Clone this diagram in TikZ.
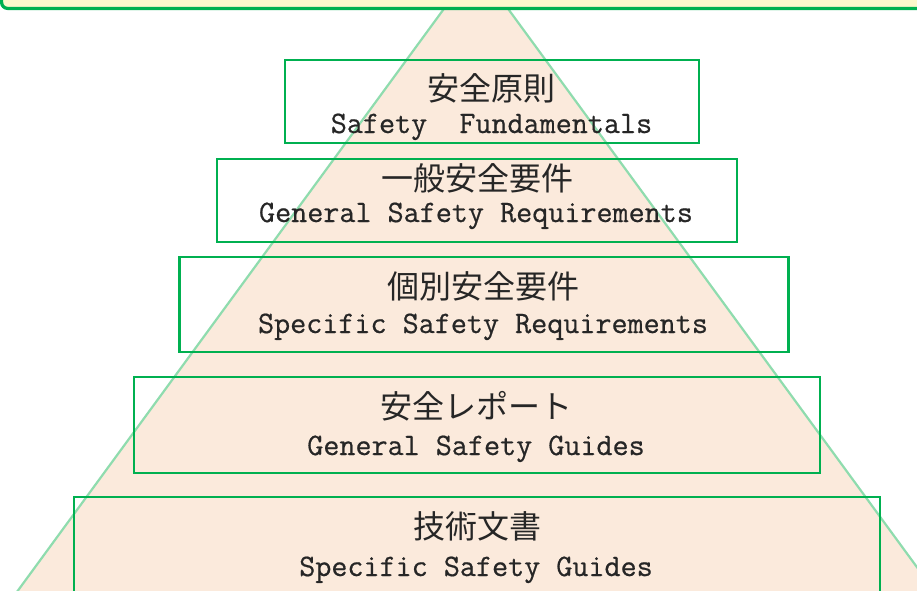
\documentclass[tikz,border=0pt]{standalone}
\usepackage{fontspec}
\newfontfamily\cjk{Noto Sans CJK JP}
\newfontfamily\enmono[FakeBold=0.6]{Latin Modern Mono}
\definecolor{boxgreen}{HTML}{00B050}
\definecolor{trigreen}{HTML}{8FDCAE}
\definecolor{peach}{HTML}{FBEADC}
\definecolor{bannerfill}{HTML}{FDF8CC}
\tikzset{
  box/.style={draw=boxgreen, line width=2.4pt, rectangle, inner sep=0pt},
  cjkt/.style={anchor=base, inner sep=0pt, font=\cjk\fontsize{32}{36}\selectfont, text=black!85},
  ent/.style={anchor=base, inner sep=0pt, font=\enmono\fontsize{31.2}{36}\selectfont, text=black!85},
  triline/.style={draw=trigreen, line width=2.2pt},
  banner/.style={draw=boxgreen, fill=bannerfill, line width=3.2pt, rounded corners=6pt}
}
\begin{document}
\begin{tikzpicture}[x=1pt,y=-1pt]
\useasboundingbox (0,0) rectangle (917,590);
\clip (0,0) rectangle (917,590);
% pyramid
\fill[peach] (476,-35) -- (-30,656) -- (982,656) -- cycle;
\draw[triline] (-30,656) -- (476,-35) -- (982,656);
% banner at top
\draw[banner] (1.6,-40) rectangle (960,8.4);
% boxes
\node[box, minimum width=414pt, minimum height=83pt] (b1) at (492,101.5) {};
\node[box, minimum width=520pt, minimum height=83pt] (b2) at (477,200.5) {};
\node[box, minimum width=609pt, minimum height=95pt] (b3) at (484,304.5) {};
\node[box, minimum width=686pt, minimum height=96pt] (b4) at (477,425) {};
\node[box, minimum width=806pt, minimum height=140pt] (b5) at (477,567) {};
% texts
\node[cjkt] (c1) at (491.5,100.5) {安全原則};
\node[ent]  (e1) at (491.5,133) {Safety\ \ Fundamentals};
\node[cjkt] (c2) at (477,190.5) {一般安全要件};
\node[ent]  (e2) at (476,222) {General Safety Requirements};
\node[cjkt] (c3) at (483,298.5) {個別安全要件};
\node[ent]  (e3) at (483,333) {Specific Safety Requirements};
\node[cjkt] (c4) at (476,418.5) {安全レポート};
\node[ent]  (e4) at (476,455) {General Safety Guides};
\node[cjkt] (c5) at (477.5,538.5) {技術文書};
\node[ent]  (e5) at (476,576) {Specific Safety Guides};
\end{tikzpicture}
\end{document}
